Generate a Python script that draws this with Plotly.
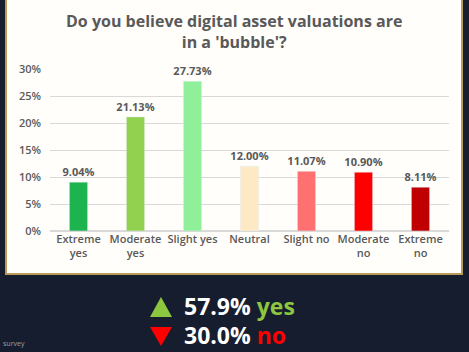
import plotly.graph_objects as go

categories = ["Extreme<br>yes", "Moderate<br>yes", "Slight yes", "Neutral", "Slight no", "Moderate<br>no", "Extreme<br>no"]
values = [9.04, 21.13, 27.73, 12.00, 11.07, 10.90, 8.11]
bar_colors = ["#1db34f", "#92d050", "#90f09a", "#fde9c4", "#ff7171", "#ff0000", "#c00000"]
tick_vals = [0, 5, 10, 15, 20, 25, 30]
tick_text = ["0%", "5%", "10%", "15%", "20%", "25%", "30%"]
yes_total = "57.9%"
no_total = "30.0%"

W, H = 469, 352
L, R, T, B = 50, 20, 69, 121
pw, ph = W - L - R, H - T - B

def px(x):
    return (x - L) / pw

def py(y):
    return (H - B - y) / ph

grey = "#595959"
green = "#8dc63f"
red = "#ff0000"

fig = go.Figure(go.Bar(
    x=categories, y=values, marker_color=bar_colors, width=0.32,
    text=[f"{v:.2f}%" for v in values], textposition="outside",
    constraintext="none",
    textfont=dict(family="Open Sans", size=11, color=grey, weight=700),
    cliponaxis=False,
))

fig.update_layout(
    width=W, height=H,
    margin=dict(l=L, r=R, t=T, b=B),
    paper_bgcolor="#161d2e", plot_bgcolor="rgba(0,0,0,0)",
    showlegend=False,
    xaxis=dict(showgrid=False, showline=False, ticks="",
               tickfont=dict(family="Open Sans", size=11, color=grey, weight=600)),
    yaxis=dict(range=[0, 30], tickvals=tick_vals, ticktext=tick_text,
               showgrid=True, gridcolor="#d9d9d9", gridwidth=1, zeroline=True,
               zerolinecolor="#d9d9d9", ticks="", ticklabelstandoff=8,
               tickfont=dict(family="Open Sans", size=11, color=grey, weight=600)),
    font=dict(family="Open Sans"),
)

fig.add_shape(type="rect", xref="paper", yref="paper",
              x0=px(6), x1=px(462), y0=py(274), y1=py(-3),
              fillcolor="#fffefa", line=dict(color="#b89a5a", width=2), layer="below")

fig.add_annotation(xref="paper", yref="paper", x=px(234), y=py(31),
                   text="<b>Do you believe digital asset valuations are<br>in a 'bubble'?</b>",
                   showarrow=False, xanchor="center", yanchor="middle",
                   font=dict(family="Open Sans", size=16, color=grey))

# triangles
def tri(x0, x1, ytop, ybot, up, color):
    if up:
        path = f"M {px(x0)},{py(ybot)} L {px(x1)},{py(ybot)} L {px((x0+x1)/2)},{py(ytop)} Z"
    else:
        path = f"M {px(x0)},{py(ytop)} L {px(x1)},{py(ytop)} L {px((x0+x1)/2)},{py(ybot)} Z"
    fig.add_shape(type="path", xref="paper", yref="paper", path=path,
                  fillcolor=color, line=dict(width=0))

tri(150, 172, 297, 317, True, green)
tri(150, 172, 327, 346, False, red)

fig.add_annotation(xref="paper", yref="paper", x=px(182), y=py(306),
                   text=f"<b>{yes_total} <span style='color:{green}'>yes</span></b>",
                   showarrow=False, xanchor="left", yanchor="middle",
                   font=dict(family="Open Sans", size=23, color="white"))
fig.add_annotation(xref="paper", yref="paper", x=px(182), y=py(335),
                   text=f"<b>{no_total} <span style='color:{red}'>no</span></b>",
                   showarrow=False, xanchor="left", yanchor="middle",
                   font=dict(family="Open Sans", size=23, color="white"))
fig.add_annotation(xref="paper", yref="paper", x=px(1), y=py(343),
                   text="survey", showarrow=False, xanchor="left", yanchor="middle",
                   font=dict(family="Open Sans", size=7, color="#9aa0ad"))

fig.write_html("out.html")
